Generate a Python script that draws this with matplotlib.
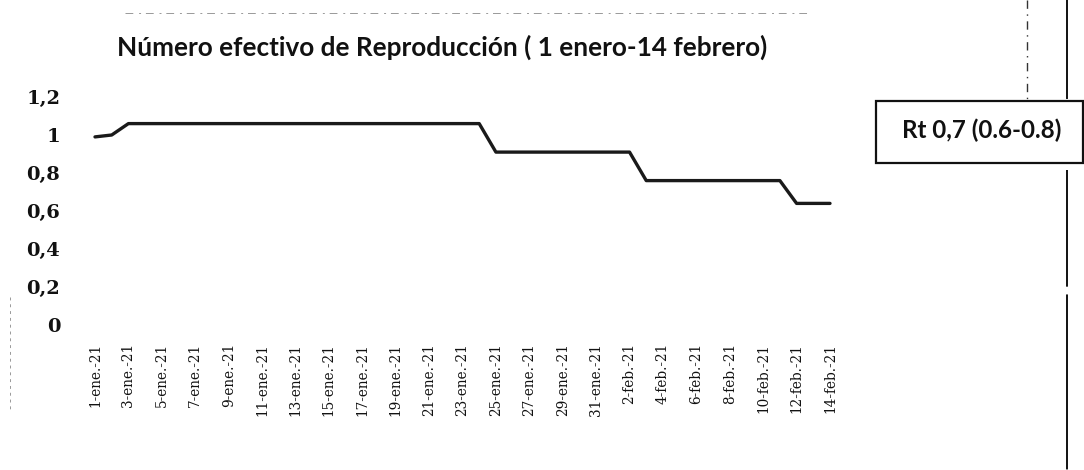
import matplotlib
matplotlib.use("Agg")
import matplotlib.pyplot as plt
from matplotlib.lines import Line2D
from matplotlib.patches import Rectangle

# ---- data ----
ene_days = list(range(1, 32))
feb_days = list(range(1, 15))
dates = [f"{d}-ene.-21" for d in ene_days] + [f"{d}-feb.-21" for d in feb_days]
rt = ([0.99, 1.00]
      + [1.06] * 22
      + [0.91] * 9
      + [0.76] * 9
      + [0.64] * 3)
y_ticks = [0, 0.2, 0.4, 0.6, 0.8, 1.0, 1.2]
y_ticklabels = ["0", "0,2", "0,4", "0,6", "0,8", "1", "1,2"]
title = "Número efectivo de Reproducción ( 1 enero-14 febrero)"
box_text = "Rt 0,7 (0.6-0.8)"

W, H = 1084, 470
fig = plt.figure(figsize=(W / 100, H / 100), dpi=100)
fig.patch.set_facecolor("white")

def fx(px):
    return px / W

def fy(py):
    return 1 - py / H

# axes: index 0 at x=95, index 44 at x=830; y 0 at 325, 1.2 at 97
unit = (830 - 95) / 44
left_px = 95 - unit
right_px = 830 + unit
ax = fig.add_axes([fx(left_px), fy(325), fx(right_px - left_px), (325 - 97) / H])
x = list(range(len(dates)))
ax.plot(x, rt, color="#1a1a1a", lw=2.4, solid_capstyle="round", solid_joinstyle="round")
ax.set_xlim(-1, len(dates))
ax.set_ylim(0, 1.2)
for s in ax.spines.values():
    s.set_visible(False)
ax.set_yticks(y_ticks)
ax.set_yticklabels(y_ticklabels, fontfamily="DejaVu Serif", fontweight="bold",
                   fontsize=14, color="#111111")
ax.set_xticks(x[::2])
ax.set_xticklabels(dates[::2], rotation=90, fontfamily="DejaVu Serif",
                   fontsize=9.8, color="#111111")
ax.tick_params(axis="y", length=0, pad=13)
ax.tick_params(axis="x", length=0, pad=13)

# title fitted to its width in the reference
renderer = fig.canvas.get_renderer()
t = fig.text(fx(442), fy(47), title, ha="center", va="center",
             fontfamily="Lato", fontweight="bold", fontsize=16, color="#111111")
wpx = t.get_window_extent(renderer).width
t.set_fontsize(16 * 651 / wpx)

# annotation box
fig.patches.append(Rectangle((fx(876), fy(163)), fx(1083 - 876), (163 - 101) / H,
                             transform=fig.transFigure, fill=False,
                             edgecolor="#111111", lw=1.6))
bt = fig.text(fx(982), fy(130), box_text, ha="center", va="center",
              fontfamily="Lato", fontweight="bold", fontsize=14, color="#111111")
bw = bt.get_window_extent(renderer).width
bt.set_fontsize(14 * 161 / bw)

# scan artefacts: vertical rules and faint dotted line at the top
fig.lines.append(Line2D([fx(1067), fx(1067)], [fy(0), fy(98)], transform=fig.transFigure,
                        color="#111111", lw=1.4))
fig.lines.append(Line2D([fx(1067), fx(1067)], [fy(170), fy(470)], transform=fig.transFigure,
                        color="#111111", lw=1.4, linestyle=(0, (60, 4, 90, 6, 40, 3))))
fig.lines.append(Line2D([fx(1027), fx(1027)], [fy(0), fy(100)], transform=fig.transFigure,
                        color="#333333", lw=1.0, linestyle=(0, (6, 4, 1, 4))))
fig.lines.append(Line2D([fx(125), fx(810)], [fy(13), fy(13)], transform=fig.transFigure,
                        color="#999999", lw=0.7, linestyle=(0, (8, 6, 2, 5))))
fig.lines.append(Line2D([fx(10), fx(10)], [fy(297), fy(410)], transform=fig.transFigure,
                        color="#999999", lw=0.7, linestyle=(0, (3, 4))))

fig.savefig("out.png", dpi=100, facecolor="white")
